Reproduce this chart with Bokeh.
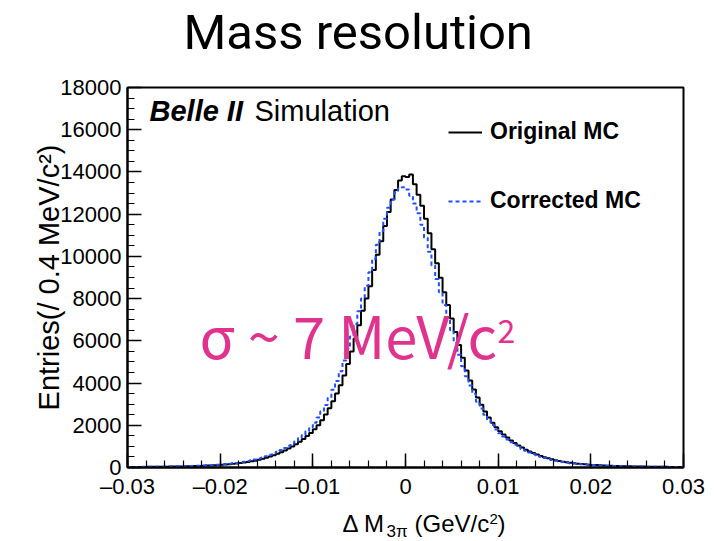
import numpy as np
from bokeh.plotting import figure
from bokeh.layouts import column
from bokeh.models import Label, Legend, LegendItem, FixedTicker, Range1d
from bokeh.core.properties import value
from bokeh.embed import file_html
from bokeh.resources import INLINE

# ---------------- data ----------------
bin_low = -0.03
bin_width = 0.0004  # 0.4 MeV bins

original_mc = [
    22, 24, 26, 27, 29, 31, 33, 35, 37, 39,
    41, 44, 47, 50, 53, 56, 61, 66, 71, 76,
    82, 91, 100, 109, 118, 128, 142, 157, 174, 192,
    211, 235, 259, 291, 324, 362, 410, 458, 518, 582,
    649, 725, 801, 895, 995, 1100, 1220, 1348, 1488, 1640,
    1808, 2000, 2240, 2510, 2810, 3140, 3500, 3900, 4360, 4900,
    5500, 6100, 6740, 7420, 8000, 8580, 9350, 10080, 10720, 11440,
    12100, 12700, 13140, 13600, 13800,
    13760, 13880, 13420, 12920, 12400, 11780, 11100, 10340, 9670, 8990,
    8300, 7700, 7060, 6420, 5800, 5200, 4600, 4120, 3700, 3320,
    2970, 2650, 2370, 2120, 1904, 1720, 1560, 1416, 1284, 1160,
    1045, 945, 845, 763, 687, 614, 550, 486, 434, 386,
    342, 308, 274, 247, 223, 200, 183, 164, 150, 136,
    123, 114, 105, 96, 87, 79, 74, 69, 64, 59,
    54, 51, 48, 45, 42, 40, 38, 36, 34, 32,
    30, 28, 27, 25, 23,
]

corrected_mc = [
    24, 26, 27, 29, 31, 33, 35, 37, 39, 41,
    44, 47, 50, 54, 57, 62, 68, 73, 78, 84,
    94, 103, 112, 121, 132, 146, 161, 178, 196, 216,
    242, 268, 302, 338, 378, 428, 478, 538, 602, 670,
    750, 830, 928, 1032, 1140, 1260, 1396, 1544, 1712, 1904,
    2120, 2368, 2652, 2960, 3296, 3680, 4096, 4560, 5072, 5624,
    6200, 6800, 7400, 8000, 8610, 9250, 9890, 10548, 11188, 11780,
    12300, 12700, 13022, 13222, 13274,
    13170, 12874, 12500, 12040, 11496, 10880, 10216, 9570, 8930, 8300,
    7700, 7100, 6500, 5912, 5344, 4800, 4320, 3888, 3488, 3120,
    2800, 2504, 2244, 2012, 1804, 1620, 1468, 1328, 1200, 1084,
    980, 876, 790, 710, 634, 570, 506, 452, 402, 356,
    320, 284, 256, 230, 206, 188, 170, 154, 139, 126,
    116, 107, 98, 89, 81, 76, 70, 65, 60, 55,
    52, 49, 46, 42, 40, 38, 36, 34, 32, 30,
    28, 27, 25, 23, 22,
]

x_ticks = [-0.03, -0.02, -0.01, 0.0, 0.01, 0.02, 0.03]
x_tick_labels = ["\u20130.03", "\u20130.02", "\u20130.01", "0", "0.01", "0.02", "0.03"]
y_ticks = [0, 2000, 4000, 6000, 8000, 10000, 12000, 14000, 16000, 18000]

title_text = "Mass resolution"
sigma_text = "\u03c3 ~ 7 MeV/c"

W = 715
TOP_H, MAIN_H, BOT_H = 70, 435, 36
LEFT_B, RIGHT_B = 127, 32

# reference-pixel helpers (for placing texts inside the frame)
X0, X1, XP0, XP1 = -0.03, 0.03, 127.0, 683.0
Y0, Y1, YP0, YP1 = 0.0, 18000.0, 467.0, 87.0


def px_x(px):
    return X0 + (px - XP0) / (XP1 - XP0) * (X1 - X0)


def px_y(py):
    return Y0 + (py - YP0) / (YP1 - YP0) * (Y1 - Y0)


def text_strip(height, y_top):
    f = figure(width=W, height=height, title=None, output_backend="svg", toolbar_location=None,
               x_range=Range1d(XP0, XP1), y_range=Range1d(y_top + height, y_top),
               x_axis_location=None, y_axis_location=None,
               min_border_left=LEFT_B, min_border_right=RIGHT_B,
               min_border_top=0, min_border_bottom=0)
    f.outline_line_color = None
    f.xgrid.visible = False
    f.ygrid.visible = False
    f.border_fill_color = "white"
    f.background_fill_color = "white"
    return f


# ---------------- title strip ----------------
top = text_strip(TOP_H, 0)
top.text(x=[183], y=[60], text=[title_text], text_font=value("Roboto"),
         text_font_size="49px", text_color="black", text_baseline="bottom")

# ---------------- main histogram ----------------
edges = bin_low + bin_width * np.arange(len(original_mc) + 1)

p = figure(
    width=W, height=MAIN_H, title=None, output_backend="svg", toolbar_location=None,
    x_range=Range1d(X0, X1), y_range=Range1d(Y0, Y1),
    min_border_left=LEFT_B, min_border_right=RIGHT_B, min_border_top=17, min_border_bottom=38,
)
p.xgrid.visible = False
p.ygrid.visible = False
p.outline_line_color = "black"
p.outline_line_width = 2
p.outline_line_alpha = 1.0
p.background_fill_color = "white"
p.border_fill_color = "white"

minor_x = list(np.round(np.arange(-0.03, 0.0301, 0.002), 4))
minor_y = list(range(0, 18001, 500))
p.xaxis.ticker = FixedTicker(ticks=x_ticks, minor_ticks=minor_x)
p.yaxis.ticker = FixedTicker(ticks=y_ticks, minor_ticks=minor_y)
p.xaxis.major_label_overrides = {v: t for v, t in zip(x_ticks, x_tick_labels)}

for ax in (p.xaxis[0], p.yaxis[0]):
    ax.major_tick_in = 14
    ax.major_tick_out = 0
    ax.minor_tick_in = 7
    ax.minor_tick_out = 0
    ax.axis_line_width = 2
    ax.major_tick_line_width = 1.5
    ax.minor_tick_line_width = 1.2
    ax.major_label_text_font = "Liberation Sans"
    ax.major_label_text_font_size = "22px"
    ax.major_label_text_color = "black"
    ax.major_label_standoff = 6

p.yaxis.axis_label = "Entries(/ 0.4 MeV/c\u00b2)"
p.yaxis.axis_label_text_font = "Liberation Sans"
p.yaxis.axis_label_text_font_size = "29px"
p.yaxis.axis_label_text_font_style = "normal"
p.yaxis.axis_label_text_color = "black"
p.yaxis.axis_label_standoff = -8

r_orig = p.step(x=edges, y=original_mc + [original_mc[-1]], mode="after",
                line_color="black", line_width=2)
r_corr = p.step(x=edges, y=corrected_mc + [corrected_mc[-1]], mode="after",
                line_color="#1f4fff", line_width=2, line_dash="4 3")

legend = Legend(
    items=[LegendItem(label="Original MC", renderers=[r_orig]),
           LegendItem(label="Corrected MC", renderers=[r_corr])],
    location=(321, 253), orientation="vertical", spacing=42, padding=0, margin=0,
    border_line_color=None, background_fill_alpha=0,
    label_text_font="Liberation Sans", label_text_font_style="bold",
    label_text_font_size="23px", label_text_color="black",
    glyph_width=34, glyph_height=20, label_standoff=8, label_height=20,
)
p.add_layout(legend)

p.add_layout(Label(x=px_x(149), y=px_y(126), text="Belle II", text_font="Liberation Sans",
                   text_font_style="bold italic", text_font_size="29px", text_color="black",
                   text_baseline="bottom"))
p.add_layout(Label(x=px_x(254), y=px_y(126), text="Simulation", text_font="Liberation Sans",
                   text_font_size="29px", text_color="black", text_baseline="bottom"))

pink = "#e0338e"
p.add_layout(Label(x=px_x(199), y=px_y(375), text=sigma_text, text_font="Noto Sans CJK JP",
                   text_font_size="58px", text_color=pink, text_baseline="bottom"))
p.add_layout(Label(x=px_x(497), y=px_y(342), text="2", text_font="Noto Sans CJK JP",
                   text_font_size="32px", text_color=pink, text_baseline="bottom"))

# ---------------- x-axis title strip ----------------
bot = text_strip(BOT_H, TOP_H + MAIN_H)
bot.text(x=[342, 414, 497], y=[536, 536, 536], text=["\u0394 M", "(GeV/c", ")"],
         text_font=value("Liberation Sans"), text_font_size="24px", text_color="black",
         text_baseline="bottom")
bot.text(x=[386], y=[540], text=["3\u03c0"], text_font=value("Liberation Sans"),
         text_font_size="17px", text_color="black", text_baseline="bottom")
bot.text(x=[489], y=[523], text=["2"], text_font=value("Liberation Sans"),
         text_font_size="15px", text_color="black", text_baseline="bottom")

layout = column(top, p, bot, spacing=0)
open("out.html", "w").write(file_html(layout, INLINE))
